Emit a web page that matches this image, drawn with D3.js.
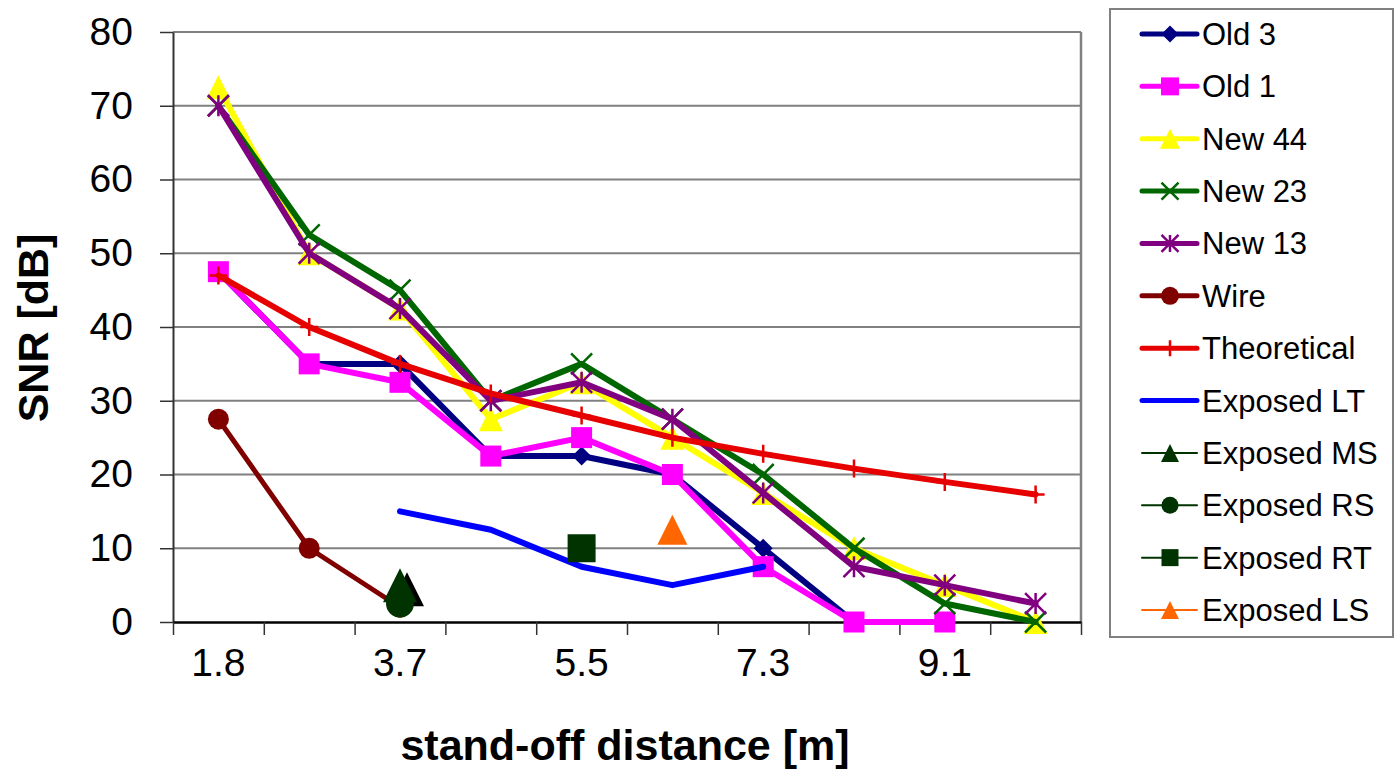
<!DOCTYPE html>
<html>
<head>
<meta charset="utf-8">
<script src="https://cdn.jsdelivr.net/npm/d3@7"></script>
<style>
  body { margin: 0; background: #fff; }
  svg { display: block; font-family: "Liberation Sans", Arial, sans-serif; }
</style>
</head>
<body>
<svg id="chart" width="1395" height="770"></svg>
<script>
// ---------- data ----------
const categories = ["1.8", "2.7", "3.7", "4.6", "5.5", "6.4", "7.3", "8.2", "9.1", "10.1"];
const yTicks = [0, 10, 20, 30, 40, 50, 60, 70, 80];

const old3        = [47.5, 35, 35, 22.5, 22.5, 20, 10, 0, 0, null];
const old1        = [47.5, 35, 32.5, 22.5, 25, 20, 7.5, 0, 0, null];
const new44       = [72.5, 50, 42.5, 27.5, 32.5, 25, 17.5, 10, 5, 0];
const new23       = [70, 52.5, 45, 30, 35, 27.5, 20, 10, 2.5, 0];
const new13       = [70, 50, 42.5, 30, 32.5, 27.5, 17.5, 7.5, 5, 2.5];
const wire        = [27.5, 10, 2, null, null, null, null, null, null, null];
const theoretical = [47, 40, 35, 31, 28, 25, 22.8, 20.8, 19, 17.3];
const exposedLT   = [null, null, 15, 12.5, 7.5, 5, 7.5, null, null, null];
const exposedMS   = [null, null, 5, null, null, null, null, null, null, null];
const exposedRS   = [null, null, 2.5, null, null, null, null, null, null, null];
const exposedRT   = [null, null, null, null, 10, null, null, null, null, null];
const exposedLS   = [null, null, null, null, null, 12.5, null, null, null, null];

const seriesNames = ["Old 3", "Old 1", "New 44", "New 23", "New 13", "Wire", "Theoretical",
  "Exposed LT", "Exposed MS", "Exposed RS", "Exposed RT", "Exposed LS"];
const seriesValues = [old3, old1, new44, new23, new13, wire, theoretical,
  exposedLT, exposedMS, exposedRS, exposedRT, exposedLS];

// ---------- styles ----------
const styles = [
  {color: "#000080", width: 6, marker: "diamond", size: 19, lsize: 17},
  {color: "#ff00ff", width: 6, marker: "square", size: 21, lsize: 18},
  {color: "#ffff00", width: 6, marker: "triangle", size: 24, lsize: 20},
  {color: "#006600", width: 6, marker: "x", size: 21, lsize: 17},
  {color: "#800080", width: 6, marker: "asterisk", size: 21, lsize: 17},
  {color: "#800000", width: 5, marker: "circle", size: 21, lsize: 18},
  {color: "#e60000", width: 6, marker: "plus", size: 18, lsize: 16},
  {color: "#0000ff", width: 6, marker: null, size: 0, lsize: 0},
  {color: "#003300", width: 2, marker: "triangle", size: 34, lsize: 18, shadow: true},
  {color: "#003300", width: 2, marker: "circle", size: 28, lsize: 17},
  {color: "#003300", width: 2, marker: "square", size: 28, lsize: 17},
  {color: "#ff6600", width: 2, marker: "triangle", size: 30, lsize: 18}
];

function markerPath(type, s) {
  const h = s / 2;
  switch (type) {
    case "diamond": return `M0,${-h}L${h},0L0,${h}L${-h},0Z`;
    case "square": return `M${-h},${-h}H${h}V${h}H${-h}Z`;
    case "triangle": return `M0,${-h}L${h},${h}L${-h},${h}Z`;
    case "circle": return `M${h},0A${h},${h} 0 1,1 ${-h},0A${h},${h} 0 1,1 ${h},0Z`;
    case "x": return `M${-h},${-h}L${h},${h}M${h},${-h}L${-h},${h}`;
    case "asterisk": return `M${-h},${-h}L${h},${h}M${h},${-h}L${-h},${h}M0,${-h}V${h}`;
    case "plus": return `M${-h},0H${h}M0,${-h}V${h}`;
  }
  return "";
}
const strokeMarkers = new Set(["x", "asterisk", "plus"]);

// ---------- layout ----------
const svg = d3.select("#chart");
const plot = {left: 173, right: 1081, top: 32, bottom: 622};

const x = d3.scaleBand().domain(categories).range([plot.left, plot.right]).padding(0);
const xIdx = d3.scaleLinear().domain([0, categories.length]).range([plot.left, plot.right]);
const y = d3.scaleLinear().domain([0, 80]).range([plot.bottom, plot.top]);
const cx = c => x(c) + x.bandwidth() / 2;

svg.append("rect").attr("width", 1395).attr("height", 770).attr("fill", "#fff");

// gridlines
svg.append("g").selectAll("line").data(yTicks.filter(t => t > 0)).join("line")
  .attr("x1", plot.left).attr("x2", plot.right)
  .attr("y1", d => y(d)).attr("y2", d => y(d))
  .attr("stroke", "#808080").attr("stroke-width", 2);
svg.append("line").attr("x1", plot.right).attr("x2", plot.right)
  .attr("y1", plot.top).attr("y2", plot.bottom)
  .attr("stroke", "#808080").attr("stroke-width", 2.5);

// y axis
const yAxis = svg.append("g").attr("transform", `translate(${plot.left},0)`)
  .call(d3.axisLeft(y).tickValues(yTicks).tickSize(13).tickSizeOuter(0).tickPadding(27));
yAxis.select(".domain").attr("stroke", "#333").attr("stroke-width", 2);
yAxis.selectAll(".tick line").attr("stroke", "#333").attr("stroke-width", 1.5);
yAxis.selectAll(".tick text").attr("font-size", 39).attr("fill", "#000")
  .attr("font-family", "Liberation Sans, Arial, sans-serif");

// x axis ticks at category boundaries
const xTickAxis = svg.append("g").attr("transform", `translate(0,${plot.bottom})`)
  .call(d3.axisBottom(xIdx).tickValues(d3.range(0, categories.length + 1)).tickSize(13)
    .tickSizeOuter(0).tickFormat(""));
xTickAxis.select(".domain").attr("stroke", "#000").attr("stroke-width", 2.5);
xTickAxis.selectAll(".tick line").attr("stroke", "#333").attr("stroke-width", 1.5);

// x axis labels (every other category)
const xLab = svg.append("g").attr("transform", `translate(0,${plot.bottom})`)
  .call(d3.axisBottom(x).tickSize(0).tickPadding(0)
    .tickFormat((d, i) => i % 2 === 0 ? d : ""));
xLab.select(".domain").remove();
xLab.selectAll(".tick text").attr("font-size", 39).attr("fill", "#000")
  .attr("dy", null).attr("y", 54)
  .attr("font-family", "Liberation Sans, Arial, sans-serif");

// axis titles
svg.append("text").attr("transform", "translate(48,328) rotate(-90)")
  .attr("text-anchor", "middle").attr("font-size", 43).attr("font-weight", "bold")
  .text("SNR [dB]");
svg.append("text").attr("x", 625).attr("y", 760)
  .attr("text-anchor", "middle").attr("font-size", 43).attr("font-weight", "bold")
  .text("stand-off distance [m]");

// series
const line = d3.line()
  .defined(d => d.v != null)
  .x(d => cx(d.c)).y(d => y(d.v));

const gSeries = svg.append("g");
seriesValues.forEach((vals, si) => {
  const st = styles[si];
  const pts = vals.map((v, i) => ({c: categories[i], v}));
  const g = gSeries.append("g");
  g.append("path").datum(pts).attr("d", line).attr("fill", "none")
    .attr("stroke", st.color).attr("stroke-width", st.width)
    .attr("stroke-linejoin", "round").attr("stroke-linecap", "round");
  if (st.marker) {
    const isStroke = strokeMarkers.has(st.marker);
    const valid = pts.filter(d => d.v != null);
    if (st.shadow) {
      g.selectAll("path.shadow").data(valid).join("path").attr("class", "shadow")
        .attr("transform", d => `translate(${cx(d.c) + 7},${y(d.v) + 4})`)
        .attr("d", markerPath(st.marker, st.size)).attr("fill", "#000");
    }
    g.selectAll("path.mk").data(valid).join("path").attr("class", "mk")
      .attr("transform", d => `translate(${cx(d.c)},${y(d.v)})`)
      .attr("d", markerPath(st.marker, st.size))
      .attr("fill", isStroke ? "none" : st.color)
      .attr("stroke", isStroke ? st.color : "none")
      .attr("stroke-width", isStroke ? 2.5 : 0);
  }
});

// legend
const lg = svg.append("g");
lg.append("rect").attr("x", 1110).attr("y", 9).attr("width", 283).attr("height", 628)
  .attr("fill", "#fff").attr("stroke", "#808080").attr("stroke-width", 2);
const lgY = d3.scalePoint().domain(seriesNames).range([34, 610]);
seriesNames.forEach((name, si) => {
  const st = styles[si];
  const yy = lgY(name);
  lg.append("line").attr("x1", 1142).attr("x2", 1197).attr("y1", yy).attr("y2", yy)
    .attr("stroke", st.color).attr("stroke-width", Math.min(st.width, 5))
    .attr("stroke-linecap", "round");
  if (st.marker) {
    const isStroke = strokeMarkers.has(st.marker);
    lg.append("path").attr("transform", `translate(1170,${yy})`)
      .attr("d", markerPath(st.marker, st.lsize))
      .attr("fill", isStroke ? "none" : st.color)
      .attr("stroke", isStroke ? st.color : "none")
      .attr("stroke-width", isStroke ? 2.5 : 0);
  }
  lg.append("text").attr("x", 1202).attr("y", yy + 11).attr("font-size", 31)
    .attr("fill", "#000").text(name);
});
</script>
</body>
</html>
